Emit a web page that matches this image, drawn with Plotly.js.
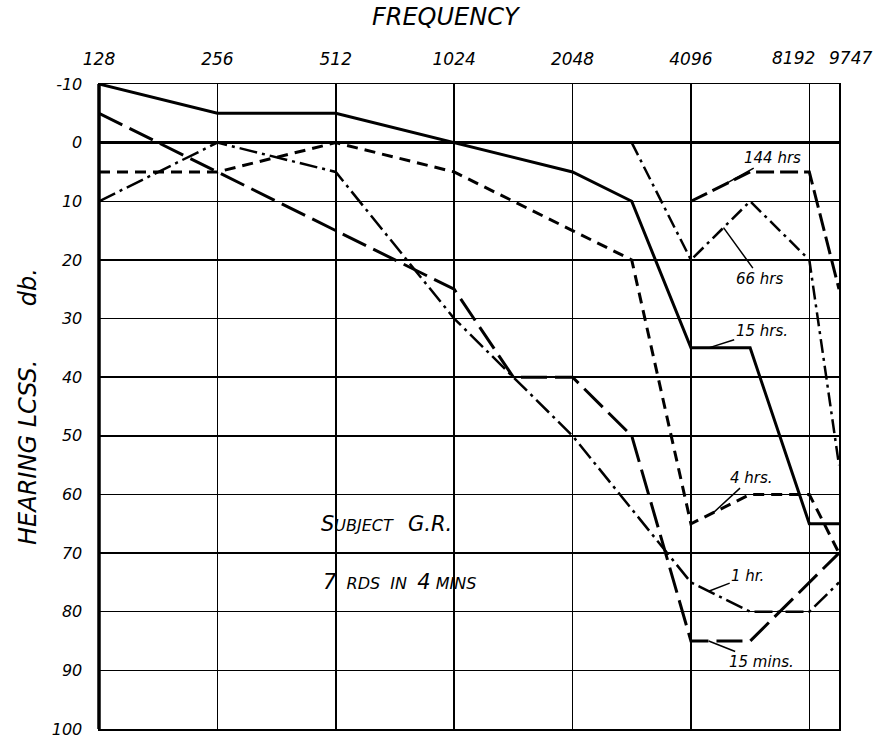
<!DOCTYPE html>
<html>
<head>
<meta charset="utf-8">
<script src="https://cdn.plot.ly/plotly-3.0.1.min.js"></script>
<style>html,body{margin:0;padding:0;background:#fff;}#chart{width:880px;height:742px;}</style>
</head>
<body>
<div id="chart"></div>
<script>
// ---- Data (frequency in Hz, hearing loss in dB) ----
const freqTicks = [128, 256, 512, 1024, 2048, 4096, 8192, 9747];
const freqTickText = ["128", "256", "512", "1024", "2048", "4096", "8192", "9747"];
const dbTicks = [-10, 0, 10, 20, 30, 40, 50, 60, 70, 80, 90, 100];
const dbTickText = ["-10", "0", "10", "20", "30", "40", "50", "60", "70", "80", "90", "100"];

const min15Freq = [128, 256, 512, 1024, 1448, 2048, 2896, 4096, 5793, 9747];
const min15Db   = [-5, 5, 15, 25, 40, 40, 50, 85, 85, 70];

const hr1Freq = [128, 256, 512, 1024, 2048, 4096, 5793, 8192, 9747];
const hr1Db   = [10, 0, 5, 30, 50, 75, 80, 80, 75];

const hr4Freq = [128, 256, 512, 1024, 2048, 2896, 4096, 5793, 8192, 9747];
const hr4Db   = [5, 5, 0, 5, 15, 20, 65, 60, 60, 70];

const hr15Freq = [128, 256, 512, 1024, 2048, 2896, 4096, 5793, 8192, 9747];
const hr15Db   = [-10, -5, -5, 0, 5, 10, 35, 35, 65, 65];

const hr66Freq = [2896, 4096, 5793, 8192, 9747];
const hr66Db   = [0, 20, 10, 20, 55];

const hr144Freq = [4096, 5793, 8192, 9747];
const hr144Db   = [10, 5, 5, 25];

const FONT = "DejaVu Sans";
const BLACK = "#000";

function line(name, x, y, dash, width) {
  return { type: "scatter", mode: "lines", name: name, x: x, y: y,
           line: { color: BLACK, width: width, dash: dash }, hoverinfo: "name+x+y" };
}

const traces = [
  line("15 mins.", min15Freq, min15Db, "26px,8px", 3),
  line("1 hr.", hr1Freq, hr1Db, "18px,5px,3px,5px", 2.5),
  line("4 hrs.", hr4Freq, hr4Db, "11px,7px", 3),
  line("15 hrs.", hr15Freq, hr15Db, "solid", 3),
  line("66 hrs", hr66Freq, hr66Db, "14px,5px,3px,5px", 2.5),
  line("144 hrs", hr144Freq, hr144Db, "18px,6px", 3)
];

// point along segment i -> i+1 of a series (log-x axis coordinates for annotations)
function pointOn(fr, db, i, t) {
  const a = Math.log10(fr[i]), b = Math.log10(fr[i + 1]);
  return { x: a + (b - a) * t, y: db[i] + (db[i + 1] - db[i]) * t };
}

const labFont = { family: FONT, size: 15, style: "italic", color: BLACK };
function label(text, p, ax, ay) {
  return { x: p.x, y: p.y, xref: "x", yref: "y", text: text, showarrow: true,
           arrowhead: 0, arrowwidth: 1.5, arrowcolor: BLACK, ax: ax, ay: ay, font: labFont };
}

const tickFont = { family: FONT, size: 17, style: "italic", color: BLACK };
// the two crowded top labels are drawn as annotations, nudged apart as in the reference
function topTick(idx, shift) {
  return { xref: "x", yref: "paper", x: Math.log10(freqTicks[idx]), y: 1.0408, yanchor: "middle",
           xanchor: "center", xshift: shift, showarrow: false, text: freqTickText[idx], font: tickFont };
}

const annotations = [
  topTick(6, -16),
  topTick(7, 11),
  label("144 hrs", pointOn(hr144Freq, hr144Db, 0, 0.5), 52, -29),
  label("66 hrs", pointOn(hr66Freq, hr66Db, 1, 0.55), 37, 51),
  label("15 hrs.", pointOn(hr15Freq, hr15Db, 6, 0.3), 53, -17),
  label("4 hrs.", pointOn(hr4Freq, hr4Db, 6, 0.38), 38, -35),
  label("1 hr.", pointOn(hr1Freq, hr1Db, 5, 0.3), 39, -15),
  label("15 mins.", pointOn(min15Freq, min15Db, 7, 0.3), 53, 21),
  { xref: "paper", yref: "y", x: 0.297, y: 65, showarrow: false,
    text: '<span style="font-size:21px">S</span>UBJECT\u00a0\u00a0\u00a0<span style="font-size:21px">G.R.</span>',
    font: { family: FONT, size: 16, style: "italic", color: BLACK } },
  { xref: "paper", yref: "y", x: 0.30, y: 75, showarrow: false,
    text: '<span style="font-size:21px">7</span>\u00a0\u00a0RDS\u00a0\u00a0IN\u00a0\u00a0<span style="font-size:21px">4</span>\u00a0MINS',
    font: { family: FONT, size: 16, style: "italic", color: BLACK } }
];

const layout = {
  width: 880, height: 742,
  margin: { l: 99, r: 41, t: 84, b: 13, pad: 0 },
  paper_bgcolor: "#fff", plot_bgcolor: "#fff",
  showlegend: false,
  title: { text: "FREQUENCY", xref: "container", yref: "container", x: 0.506, y: 0.977,
           xanchor: "center", yanchor: "middle",
           font: { family: FONT, size: 24, style: "italic", color: BLACK } },
  xaxis: {
    type: "log", side: "top", range: [Math.log10(128), Math.log10(9747)],
    tickmode: "array", tickvals: freqTicks,
    ticktext: freqTickText.map((t, i) => (i >= 6 ? "" : t)),
    ticks: "", ticklabelstandoff: 11, tickangle: 0,
    tickfont: tickFont,
    showgrid: true, gridcolor: BLACK, gridwidth: 1.5,
    showline: true, mirror: true, linecolor: BLACK, linewidth: 1.5,
    zeroline: false, automargin: false, fixedrange: true
  },
  yaxis: {
    range: [100, -10], tickmode: "array", tickvals: dbTicks, ticktext: dbTickText,
    ticks: "", ticklabelstandoff: 12,
    tickfont: { family: FONT, size: 16, style: "italic", color: BLACK },
    showgrid: true, gridcolor: BLACK, gridwidth: 1.5,
    zeroline: true, zerolinecolor: BLACK, zerolinewidth: 3.5,
    showline: true, mirror: true, linecolor: BLACK, linewidth: 1.5,
    automargin: false, fixedrange: true,
    title: { text: "HEARING\u00a0LCSS.\u00a0\u00a0\u00a0\u00a0\u00a0\u00a0\u00a0db.", standoff: 8,
             font: { family: FONT, size: 24, style: "italic", color: BLACK } }
  },
  shapes: [
    { type: "line", xref: "paper", yref: "paper", x0: 0, x1: 0, y0: 0, y1: 1,
      line: { color: BLACK, width: 3.5 } }
  ],
  annotations: annotations
};

Plotly.newPlot("chart", traces, layout, { displayModeBar: false, staticPlot: true });
</script>
</body>
</html>
